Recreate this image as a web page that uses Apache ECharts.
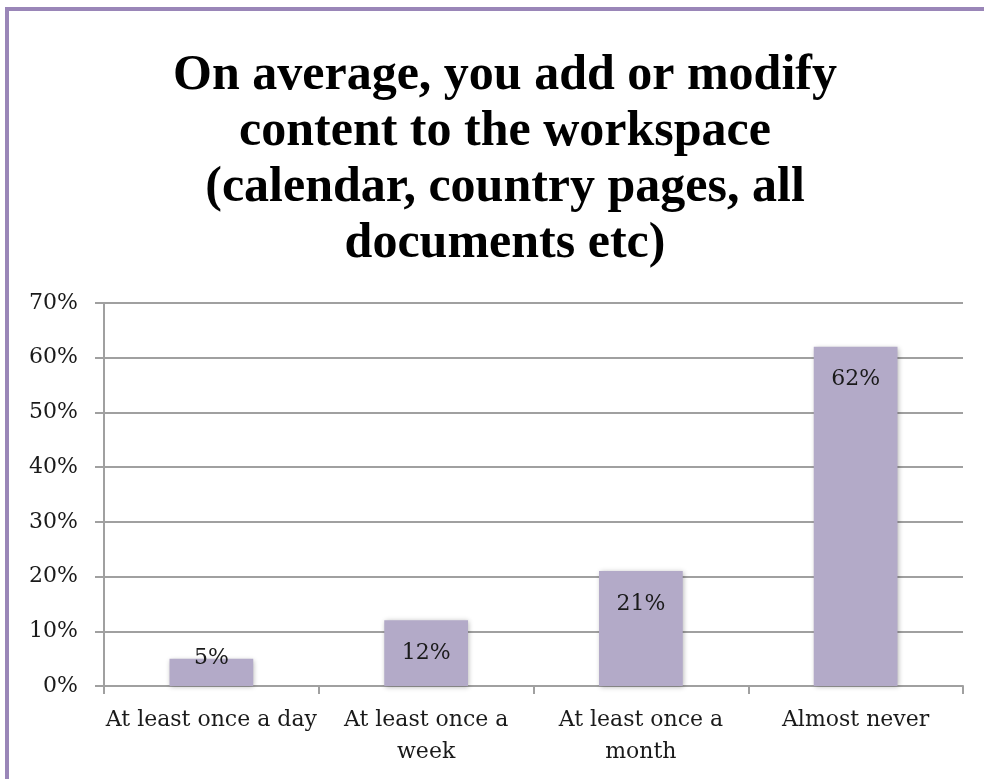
<!DOCTYPE html>
<html>
<head>
<meta charset="utf-8">
<script src="https://cdn.jsdelivr.net/npm/echarts@6/dist/echarts.min.js"></script>
<style>
  html, body { margin: 0; padding: 0; background: #ffffff; }
  #frame {
    position: absolute; left: 5px; top: 7px; right: 0; bottom: 0;
    border-left: 4px solid #9a86b8; border-top: 4px solid #9a86b8;
  }
  #chart { position: absolute; left: 0; top: 0; width: 984px; height: 779px; }
</style>
</head>
<body>
<div id="frame"></div>
<div id="chart"></div>
<script>
// Survey answers: how often content is added or modified in the workspace
const categories = ['At least once a day', 'At least once a\nweek', 'At least once a\nmonth', 'Almost never'];
const shares = [5, 12, 21, 62];           // percent of respondents
const yTicks = { min: 0, max: 70, step: 10 };

const titleText = 'On average, you add or modify\ncontent to the workspace\n(calendar, country pages, all\ndocuments etc)';

const axisGray = '#a0a0a0';
const labelFont = 'DejaVu Serif';

const chart = echarts.init(document.getElementById('chart'), null, { renderer: 'canvas' });

const barData = shares.map(function (v, i) {
  const item = { value: v };
  // the shortest bar cannot hold its label inside, so it sits slightly above
  if (i === 0) item.label = { position: 'insideBottom', distance: 17 };
  return item;
});

chart.setOption({
  backgroundColor: 'transparent',
  animation: false,
  title: {
    text: titleText,
    left: 500,
    textAlign: 'center',
    top: 43,
    textStyle: {
      fontFamily: 'Liberation Serif',
      fontWeight: 'bold',
      fontSize: 50,
      lineHeight: 56,
      color: '#000000'
    }
  },
  grid: { left: 104, right: 21, top: 303, bottom: 93, containLabel: false },
  xAxis: {
    type: 'category',
    data: categories,
    axisLine: { lineStyle: { color: axisGray, width: 2 } },
    axisTick: { show: true, alignWithLabel: false, length: 8, lineStyle: { color: axisGray, width: 2 } },
    axisLabel: {
      interval: 0,
      margin: 18,
      fontFamily: labelFont,
      fontSize: 22,
      lineHeight: 32,
      color: '#1a1a1a'
    }
  },
  yAxis: {
    type: 'value',
    min: yTicks.min,
    max: yTicks.max,
    interval: yTicks.step,
    axisLine: { show: true, lineStyle: { color: axisGray, width: 2 } },
    axisTick: { show: true, length: 9, lineStyle: { color: axisGray, width: 2 } },
    splitLine: { show: true, lineStyle: { color: axisGray, width: 2 } },
    axisLabel: {
      margin: 26,
      formatter: '{value}%',
      fontFamily: labelFont,
      fontSize: 22,
      color: '#1a1a1a'
    }
  },
  series: [{
    type: 'bar',
    data: barData,
    barWidth: '39%',
    itemStyle: {
      color: '#b3aac8',
      shadowBlur: 5,
      shadowColor: 'rgba(0,0,0,0.3)',
      shadowOffsetX: 1,
      shadowOffsetY: 1
    },
    label: {
      show: true,
      position: 'insideTop',
      distance: 22,
      formatter: '{c}%',
      fontFamily: labelFont,
      fontSize: 22,
      color: '#1a1a1a'
    }
  }]
});
</script>
</body>
</html>
